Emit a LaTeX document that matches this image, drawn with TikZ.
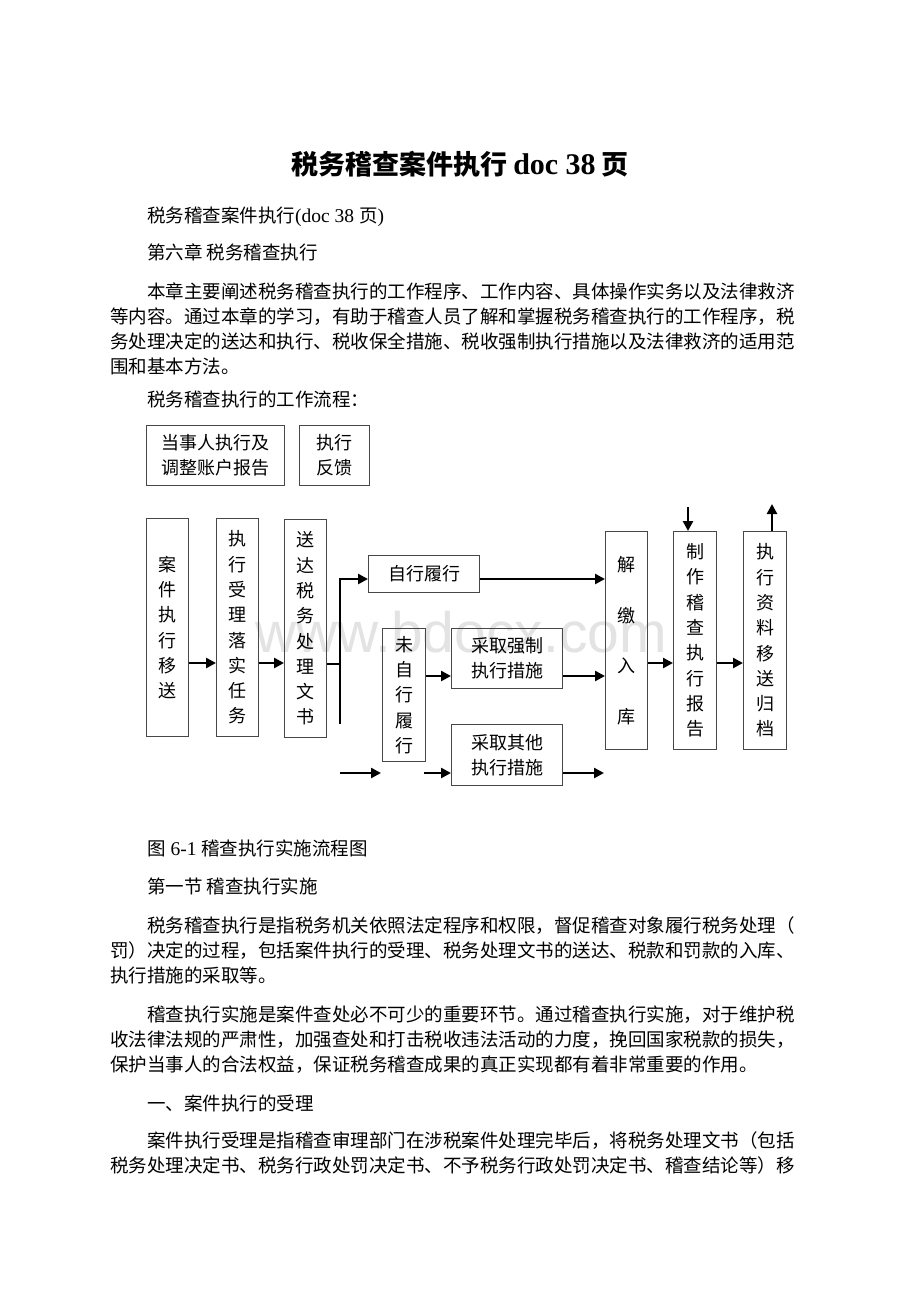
\documentclass[tikz,border=0pt]{standalone}
\usepackage{fontspec}
\setmainfont{Liberation Serif}
\newfontfamily\cjk{Noto Sans CJK SC}
\newfontfamily\wmfont{Liberation Sans}
\usetikzlibrary{arrows.meta}
\newcommand\lat[1]{{\rmfamily #1}}
\begin{document}
\begin{tikzpicture}[x=1pt,y=-1pt,
  txt/.style={anchor=base west, inner sep=0, font=\cjk\fontsize{18.5}{25}\selectfont},
  box/.style={draw=black!72, line width=1pt, inner sep=0, align=center, anchor=north west,
    font=\cjk\fontsize{18}{25.3}\selectfont},
  ln/.style={line width=2.7pt},
  arr/.style={line width=2.7pt, -{Triangle[length=10pt,width=10pt]}}]
\useasboundingbox (0,0) rectangle (920,1302);
\fill[white] (0,0) rectangle (920,1302);

% watermark
\node[font=\wmfont\fontsize{57}{57}\selectfont, text=black!11, anchor=base, inner sep=0] (wm) at (461,652) {www.bdocx.com};

% title
\node[anchor=base, inner sep=0, font=\cjk\bfseries\fontsize{27}{30}\selectfont] (title) at (460,174)
  {税务稽查案件执行 \lat{\fontsize{30}{30}\selectfont\bfseries doc 38} 页};

% upper text
\node[txt] (t1) at (147,222) {税务稽查案件执行\lat{\fontsize{19.5}{25}\selectfont(doc 38 }页\lat{\fontsize{19.5}{25}\selectfont)}};
\node[txt] (t2) at (147,259) {第六章 税务稽查执行};
\node[txt] (p1a) at (147,298) {本章主要阐述税务稽查执行的工作程序、工作内容、具体操作实务以及法律救济};
\node[txt] (p1b) at (110,323) {等内容。通过本章的学习，有助于稽查人员了解和掌握税务稽查执行的工作程序，税};
\node[txt] (p1c) at (110,348) {务处理决定的送达和执行、税收保全措施、税收强制执行措施以及法律救济的适用范};
\node[txt] (p1d) at (110,373) {围和基本方法。};
\node[txt] (t3) at (147,406) {税务稽查执行的工作流程：};

% diagram boxes
\node[box, minimum width=138, minimum height=60] (A) at (146,425) {当事人执行及\\调整账户报告};
\node[box, minimum width=70, minimum height=60] (B) at (299,425) {执行\\反馈};

\node[box, minimum width=42, minimum height=218] (C1) at (146,518) {案\\件\\执\\行\\移\\送};
\node[box, minimum width=42, minimum height=218] (C2) at (216,518) {执\\行\\受\\理\\落\\实\\任\\务};
\node[box, minimum width=42, minimum height=218] (C3) at (284,519) {送\\达\\税\\务\\处\\理\\文\\书};
\node[box, minimum width=111, minimum height=37] (D) at (368,555) {自行履行};
\node[box, minimum width=43, minimum height=133] (E) at (382,628) {未\\自\\行\\履\\行};
\node[box, minimum width=111, minimum height=60] (F) at (451,628) {采取强制\\执行措施};
\node[box, minimum width=111, minimum height=61] (G) at (451,724) {采取其他\\执行措施};
\node[box, minimum width=42, minimum height=218, font=\cjk\fontsize{18}{50.5}\selectfont] (H) at (605,531) {解\\缴\\入\\库};
\node[box, minimum width=43, minimum height=218] (I) at (673,531) {制\\作\\稽\\查\\执\\行\\报\\告};
\node[box, minimum width=43, minimum height=218] (J) at (743,531) {执\\行\\资\\料\\移\\送\\归\\档};

% coordinates
\coordinate (y1) at (0,663);
\coordinate (y2) at (0,579);
\coordinate (y3) at (0,676);
\coordinate (bx) at (340,664);
\coordinate (bt) at (340,579);
\coordinate (bb) at (340,724);
\coordinate (s1) at (340,773);
\coordinate (e1) at (381,773);
\coordinate (s2) at (424,773);
\coordinate (e2) at (604,773);
\coordinate (dn) at (688,507);
\coordinate (up) at (772,504);

% connectors
\draw[arr] (C1.east |- y1) -- (C2.west |- y1);
\draw[arr] (C2.east |- y1) -- (C3.west |- y1);
\draw[ln] (C3.east |- bx) -- (bx);
\draw[arr] (bb) -- (bt) -- (D.west |- bt);
\draw[arr] (D.east |- y2) -- (H.west |- y2);
\draw[arr] (E.east |- y3) -- (F.west |- y3);
\draw[arr] (F.east |- y3) -- (H.west |- y3);
\draw[arr] (s1) -- (e1);
\draw[arr] (s2) -- (G.west |- s2);
\draw[arr] (G.east |- s2) -- (e2);
\draw[arr] (H.east |- y1) -- (I.west |- y1);
\draw[arr] (I.east |- y1) -- (J.west |- y1);
\draw[arr] (dn) -- (I.north -| dn);
\draw[arr] (J.north -| up) -- (up);

% lower text
\node[txt] (cap) at (147,855) {图\lat{\fontsize{19.5}{25}\selectfont{} 6-1 }稽查执行实施流程图};
\node[txt] (t4) at (147,893) {第一节 稽查执行实施};
\node[txt] (p2a) at (147,932) {税务稽查执行是指税务机关依照法定程序和权限，督促稽查对象履行税务处理（};
\node[txt] (p2b) at (110,957) {罚）决定的过程，包括案件执行的受理、税务处理文书的送达、税款和罚款的入库、};
\node[txt] (p2c) at (110,982) {执行措施的采取等。};
\node[txt] (p3a) at (147,1021) {稽查执行实施是案件查处必不可少的重要环节。通过稽查执行实施，对于维护税};
\node[txt] (p3b) at (110,1046) {收法律法规的严肃性，加强查处和打击税收违法活动的力度，挽回国家税款的损失，};
\node[txt] (p3c) at (110,1071) {保护当事人的合法权益，保证税务稽查成果的真正实现都有着非常重要的作用。};
\node[txt] (t5) at (147,1110) {一、案件执行的受理};
\node[txt] (p4a) at (147,1147) {案件执行受理是指稽查审理部门在涉税案件处理完毕后，将税务处理文书（包括};
\node[txt] (p4b) at (110,1172) {税务处理决定书、税务行政处罚决定书、不予税务行政处罚决定书、稽查结论等）移};
\end{tikzpicture}
\end{document}
